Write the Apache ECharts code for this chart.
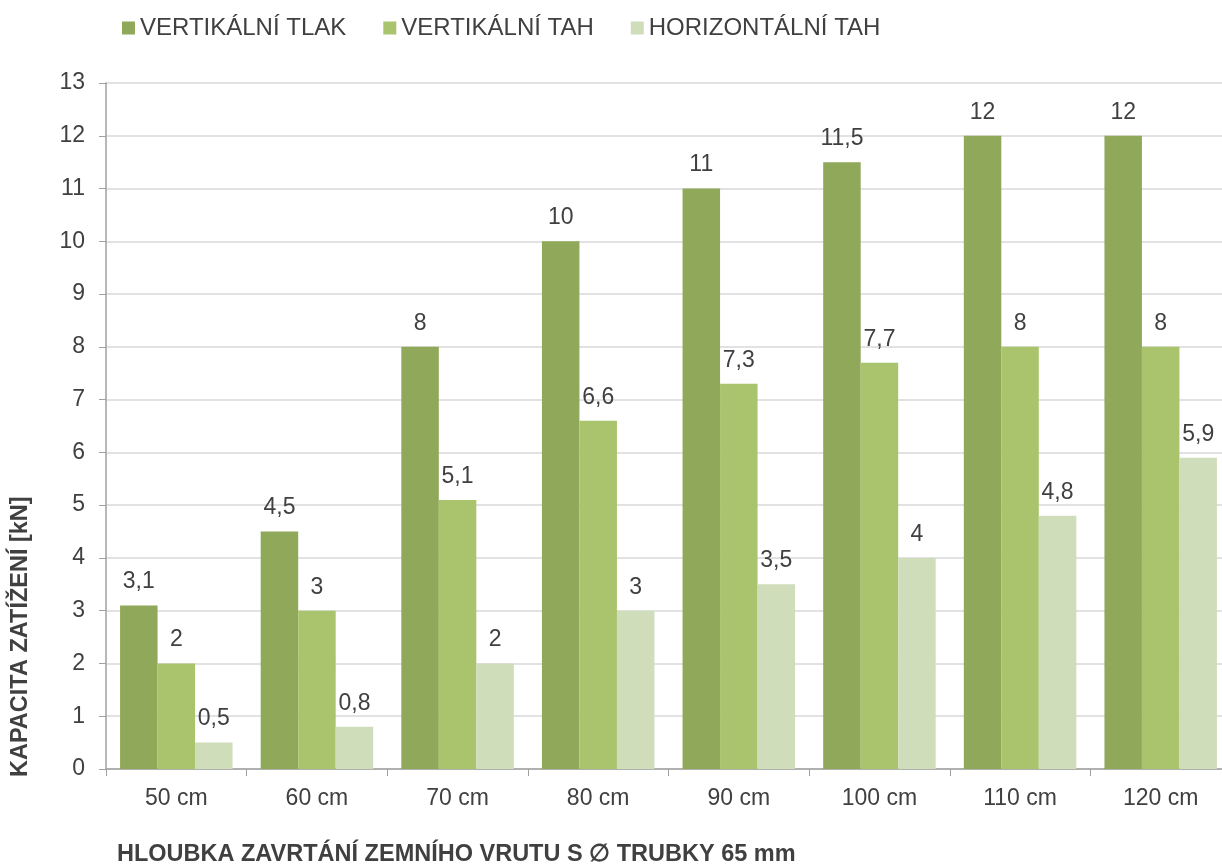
<!DOCTYPE html>
<html>
<head>
<meta charset="utf-8">
<script src="https://cdn.jsdelivr.net/npm/echarts@6/dist/echarts.min.js"></script>
<style>
  html, body { margin: 0; padding: 0; background: #fff; overflow: hidden; }
  #chart { width: 1240px; height: 868px; }
</style>
</head>
<body>
<div id="chart"></div>
<script>
const categories = ['50 cm', '60 cm', '70 cm', '80 cm', '90 cm', '100 cm', '110 cm', '120 cm']
const seriesNames = ['VERTIKÁLNÍ TLAK', 'VERTIKÁLNÍ TAH', 'HORIZONTÁLNÍ TAH']
const vertTlak = [3.1, 4.5, 8, 10, 11, 11.5, 12, 12]
const vertTah = [2, 3, 5.1, 6.6, 7.3, 7.7, 8, 8]
const horizTah = [0.5, 0.8, 2, 3, 3.5, 4, 4.8, 5.9]
const colors = ['#8fa859', '#a9c46c', '#d0ddbb']

const chart = echarts.init(document.getElementById('chart'))
const font = 'Liberation Sans, Arial, sans-serif'
const textColor = '#404040'

function makeSeries(name, data, color) {
  return {
    name: name,
    type: 'bar',
    data: data,
    barGap: '0%',
    barCategoryGap: '20%',
    itemStyle: { color: color },
    label: {
      show: true,
      position: 'top',
      distance: 12,
      fontFamily: font,
      fontSize: 23,
      color: textColor,
      formatter: (p) => String(p.value).replace('.', ',')
    },
    animation: false
  }
}

chart.setOption({
  textStyle: { fontFamily: font },
  legend: {
    left: 117,
    top: 11,
    itemWidth: 13,
    itemHeight: 13,
    itemGap: 37,
    icon: 'rect',
    textStyle: { fontFamily: font, fontSize: 24, color: textColor },
    data: seriesNames
  },
  grid: {
    left: 106,
    width: 1125,
    top: 83,
    bottom: 99
  },
  xAxis: {
    type: 'category',
    data: categories,
    axisLine: { lineStyle: { color: '#a0a0a0', width: 1.5 } },
    axisTick: { show: true, length: 7, lineStyle: { color: '#a0a0a0' } },
    axisLabel: { fontFamily: font, fontSize: 23, color: textColor, margin: 18 }
  },
  yAxis: {
    type: 'value',
    min: 0,
    max: 13,
    interval: 1,
    axisLine: { show: true, lineStyle: { color: '#a0a0a0', width: 1.5 } },
    axisTick: { show: true, length: 7, lineStyle: { color: '#a0a0a0' } },
    axisLabel: { fontFamily: font, fontSize: 23, color: textColor, margin: 21 },
    splitLine: { lineStyle: { color: '#d9d9d9', width: 1.5 } }
  },
  graphic: [
    {
      // y axis title, reads bottom to top
      type: 'text',
      x: 9,
      y: 777,
      rotation: Math.PI / 2,
      style: {
        text: 'KAPACITA ZATÍŽENÍ [kN]',
        font: 'bold 23.5px ' + font,
        fill: textColor,
        align: 'left',
        verticalAlign: 'top'
      }
    },
    {
      type: 'text',
      left: 117,
      top: 843,
      style: {
        text: 'HLOUBKA ZAVRTÁNÍ ZEMNÍHO VRUTU S ∅ TRUBKY 65 mm',
        font: 'bold 23.5px ' + font,
        fill: textColor
      }
    }
  ],
  series: [
    makeSeries(seriesNames[0], vertTlak, colors[0]),
    makeSeries(seriesNames[1], vertTah, colors[1]),
    makeSeries(seriesNames[2], horizTah, colors[2])
  ]
})
</script>
</body>
</html>
